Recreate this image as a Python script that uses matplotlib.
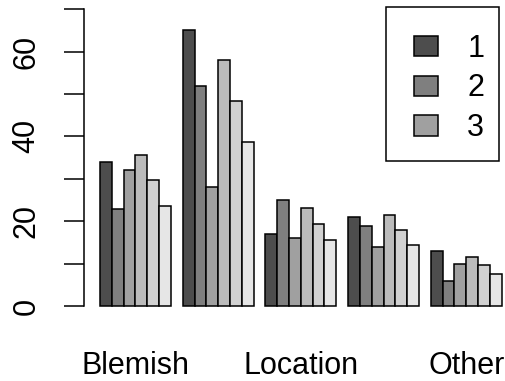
import matplotlib
matplotlib.use('Agg')
import matplotlib.pyplot as plt
from matplotlib.patches import Rectangle, Patch

plt.rcParams['font.family'] = ['Liberation Sans', 'DejaVu Sans']

# ---- data ----
group_labels = ['Blemish', '', 'Location', '', 'Other']
series_names = ['1', '2', '3', '4', '5', '6']
s1 = [34.0, 65.1, 17.0, 20.9, 13.0]
s2 = [22.9, 52.0, 25.0, 18.9, 5.9]
s3 = [32.0, 28.0, 16.0, 14.0, 9.9]
s4 = [35.6, 58.0, 23.1, 21.5, 11.5]
s5 = [29.6, 48.4, 19.3, 18.0, 9.6]
s6 = [23.7, 38.7, 15.5, 14.4, 7.6]
series = [s1, s2, s3, s4, s5, s6]
legend_labels = ['1', '2', '3']
yticks = [0, 10, 20, 30, 40, 50, 60, 70]
ytick_labels = ['0', '', '20', '', '40', '', '60', '']

colors = ['#4D4D4D', '#7F7F7F', '#A0A0A0', '#BBBBBB', '#D1D1D1', '#E6E6E6']

W, H = 505, 381
FS = 22
fig = plt.figure(figsize=(W / 100, H / 100), dpi=100)
ax = fig.add_axes([83.9 / W, (H - 317.9) / H, (517.8 - 83.9) / W, 320.6 / H])

n_groups = len(group_labels)
n_series = len(series)
for j, s in enumerate(series):
    x = [1 + (n_series + 1) * g + j for g in range(n_groups)]
    ax.bar(x, s, width=1, align='edge', color=colors[j],
           edgecolor='black', linewidth=1.1)

ax.set_xlim(-0.36, 36.36)
ax.set_ylim(-2.8, 72.8)

centers = [1 + (n_series + 1) * g + n_series / 2 for g in range(n_groups)]
ax.set_xticks(centers)
ax.set_xticklabels(group_labels, fontsize=FS)
ax.tick_params(axis='x', length=0, pad=24)

ax.set_yticks(yticks)
ax.set_yticklabels(ytick_labels, fontsize=FS, rotation=90, va='center')
ax.tick_params(axis='y', length=14.4, width=1.1, pad=16)

for sp in ['top', 'right', 'bottom']:
    ax.spines[sp].set_visible(False)
ax.spines['left'].set_bounds(0, 70)
ax.spines['left'].set_linewidth(1.1)

handles = [Patch(facecolor=colors[i], edgecolor='black', linewidth=1.1)
           for i in range(len(legend_labels))]
fpx = FS * 100 / 72
fig.legend(handles, legend_labels, loc='upper left',
           bbox_to_anchor=(414.3 / W, 1 - 33.7 / H), bbox_transform=fig.transFigure,
           frameon=False, borderpad=0, borderaxespad=0, fontsize=FS,
           handlelength=24 / fpx, handleheight=19.5 / fpx,
           handletextpad=29 / fpx, labelspacing=0.32)
fig.patches.append(Rectangle((385.7 / W, 1 - 160.7 / H), (499 - 385.7) / W, 154 / H,
                             transform=fig.transFigure, fill=False,
                             edgecolor='black', linewidth=1.1))

fig.savefig('out.png', dpi=100)
